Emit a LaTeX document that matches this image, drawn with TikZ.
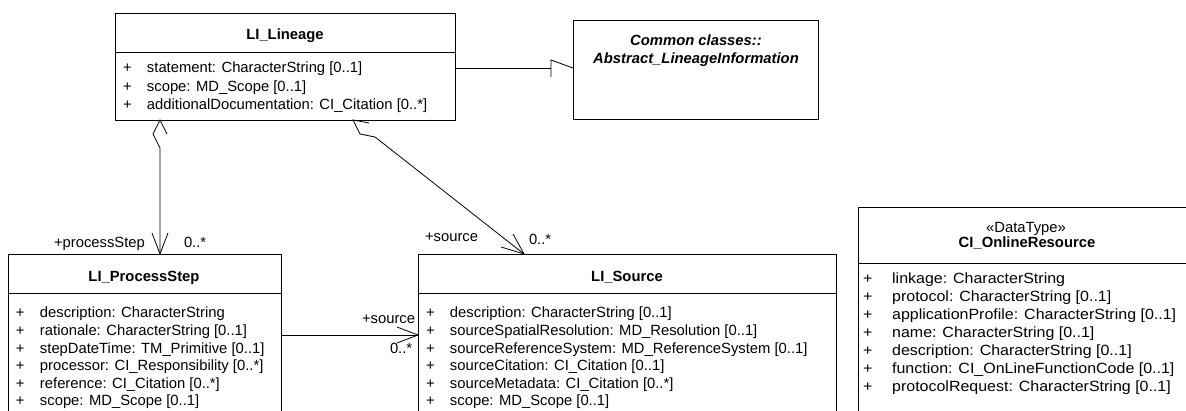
\documentclass[tikz,border=0pt]{standalone}
\usepackage{fontspec}
\setmainfont{Liberation Sans}
\newcommand\umlrow[2][24pt]{\makebox[#1][l]{+}#2}
\begin{document}
\begin{tikzpicture}[x=1pt,y=-1pt,
  box/.style={draw,line width=0.9pt,anchor=north west,inner sep=0,outer sep=0},
  txt/.style={anchor=base west,inner sep=0,outer sep=0,font=\fontsize{14.8}{18}\selectfont},
  ttl/.style={anchor=base,inner sep=0,outer sep=0,font=\bfseries\fontsize{14.8}{18}\selectfont},
  stt/.style={anchor=base,inner sep=0,outer sep=0,font=\fontsize{14.8}{18}\selectfont},
  ital/.style={anchor=base,inner sep=0,outer sep=0,font=\bfseries\itshape\fontsize{14.8}{18}\selectfont},
  conn/.style={line width=0.8pt}]
\useasboundingbox (0,0) rectangle (1186,411);

% ---------------- LI_Lineage
\node[box,minimum width=340pt,minimum height=107pt] (lin) at (115,13) {};
\draw ([yshift=-39pt]lin.north west) -- ([yshift=-39pt]lin.north east);
\node[ttl] (linT) at (285,40) {LI\_Lineage};
\node[txt,font=\fontsize{14.8}{18.3}\selectfont] (linA) at (123,73) {\begin{tabular}[t]{@{}l@{}}
\umlrow{statement: CharacterString [0..1]}\\
\umlrow{scope: MD\_Scope [0..1]}\\
\umlrow{additionalDocumentation: CI\_Citation [0..*]}
\end{tabular}};

% ---------------- Common classes
\node[box,minimum width=245pt,minimum height=99pt] (com) at (573,20) {};
\node[ital] (comT1) at (696,46) {Common classes::};
\node[ital] (comT2) at (696,64) {Abstract\_LineageInformation};

% ---------------- LI_ProcessStep
\node[box,minimum width=273pt,minimum height=180pt] (ps) at (8,254) {};
\draw ([yshift=-39pt]ps.north west) -- ([yshift=-39pt]ps.north east);
\node[ttl] (psT) at (144,282) {LI\_ProcessStep};
\node[txt,font=\fontsize{14.8}{17.6}\selectfont] (psA) at (16,318) {\begin{tabular}[t]{@{}l@{}}
\umlrow{description: CharacterString}\\
\umlrow{rationale: CharacterString [0..1]}\\
\umlrow{stepDateTime: TM\_Primitive [0..1]}\\
\umlrow{processor: CI\_Responsibility [0..*]}\\
\umlrow{reference: CI\_Citation [0..*]}\\
\umlrow{scope: MD\_Scope [0..1]}
\end{tabular}};

% ---------------- LI_Source
\node[box,minimum width=418pt,minimum height=180pt] (src) at (418,254) {};
\draw ([yshift=-39pt]src.north west) -- ([yshift=-39pt]src.north east);
\node[ttl] (srcT) at (627,282) {LI\_Source};
\node[txt,font=\fontsize{14.8}{17.6}\selectfont] (srcA) at (426,318) {\begin{tabular}[t]{@{}l@{}}
\umlrow{description: CharacterString [0..1]}\\
\umlrow{sourceSpatialResolution: MD\_Resolution [0..1]}\\
\umlrow{sourceReferenceSystem: MD\_ReferenceSystem [0..1]}\\
\umlrow{sourceCitation: CI\_Citation [0..1]}\\
\umlrow{sourceMetadata: CI\_Citation [0..*]}\\
\umlrow{scope: MD\_Scope [0..1]}
\end{tabular}};

% ---------------- CI_OnlineResource
\node[box,minimum width=338pt,minimum height=230pt] (olr) at (858,207) {};
\draw ([yshift=-56pt]olr.north west) -- ([yshift=-56pt]olr.north east);
\node[stt] (olrS) at (1026,233) {«DataType»};
\node[ttl] (olrT) at (1027,248) {CI\_OnlineResource};
\node[txt,transform shape,xscale=1.08] (olrA) at (863,284) {\begin{tabular}[t]{@{}l@{}}
\umlrow[27pt]{linkage: CharacterString}\\
\umlrow[27pt]{protocol: CharacterString [0..1]}\\
\umlrow[27pt]{applicationProfile: CharacterString [0..1]}\\
\umlrow[27pt]{name: CharacterString [0..1]}\\
\umlrow[27pt]{description: CharacterString [0..1]}\\
\umlrow[27pt]{function: CI\_OnLineFunctionCode [0..1]}\\
\umlrow[27pt]{protocolRequest: CharacterString [0..1]}
\end{tabular}};

% ---------------- Generalization Lineage -> Common
\coordinate (g0) at (455,68);
\coordinate (g1) at (551,68);
\coordinate (g1t) at (551,60);
\coordinate (g1b) at (551,77);
\coordinate (gtip) at (573,68);
\draw[conn] (g0) -- (g1);
\draw[conn] (g1b) -- (g1t) -- (gtip);

% ---------------- Aggregation Lineage -> ProcessStep
\coordinate (a1t) at (160,120);
\coordinate (a1l) at (153,134);
\coordinate (a1b) at (160,148);
\coordinate (a1r) at (167,134);
\coordinate (a1e) at (160,254);
\coordinate (a1al) at (152,233);
\coordinate (a1ar) at (168,233);
\draw[conn] (a1r) -- (a1t) -- (a1l) -- (a1b) -- (a1e);
\draw[conn] (a1al) -- (a1e) -- (a1ar);
\node[txt] (l1a) at (54,248) {+processStep};
\node[txt] (l1b) at (184,248) {0..*};

% ---------------- Aggregation Lineage -> Source
\coordinate (a2t) at (353,120);
\coordinate (a2r) at (369,123);
\coordinate (a2b) at (375,137);
\coordinate (a2l) at (360,134);
\coordinate (a2e) at (524,254);
\coordinate (a2al) at (513,234);
\coordinate (a2ar) at (501,247);
\draw[conn] (a2r) -- (a2t) -- (a2l) -- (a2b) -- (a2e);
\draw[conn] (a2al) -- (a2e) -- (a2ar);
\node[txt] (l2a) at (425,242) {+source};
\node[txt] (l2b) at (529,245) {0..*};

% ---------------- Association ProcessStep -> Source
\coordinate (s0) at (281,335);
\coordinate (s1) at (418,335);
\coordinate (s1u) at (397,327);
\coordinate (s1d) at (397,343);
\draw[conn] (s0) -- (s1);
\draw[conn] (s1u) -- (s1) -- (s1d);
\node[txt] (l3a) at (362,324) {+source};
\node[txt] (l3b) at (390,354) {0..*};
\end{tikzpicture}
\end{document}
